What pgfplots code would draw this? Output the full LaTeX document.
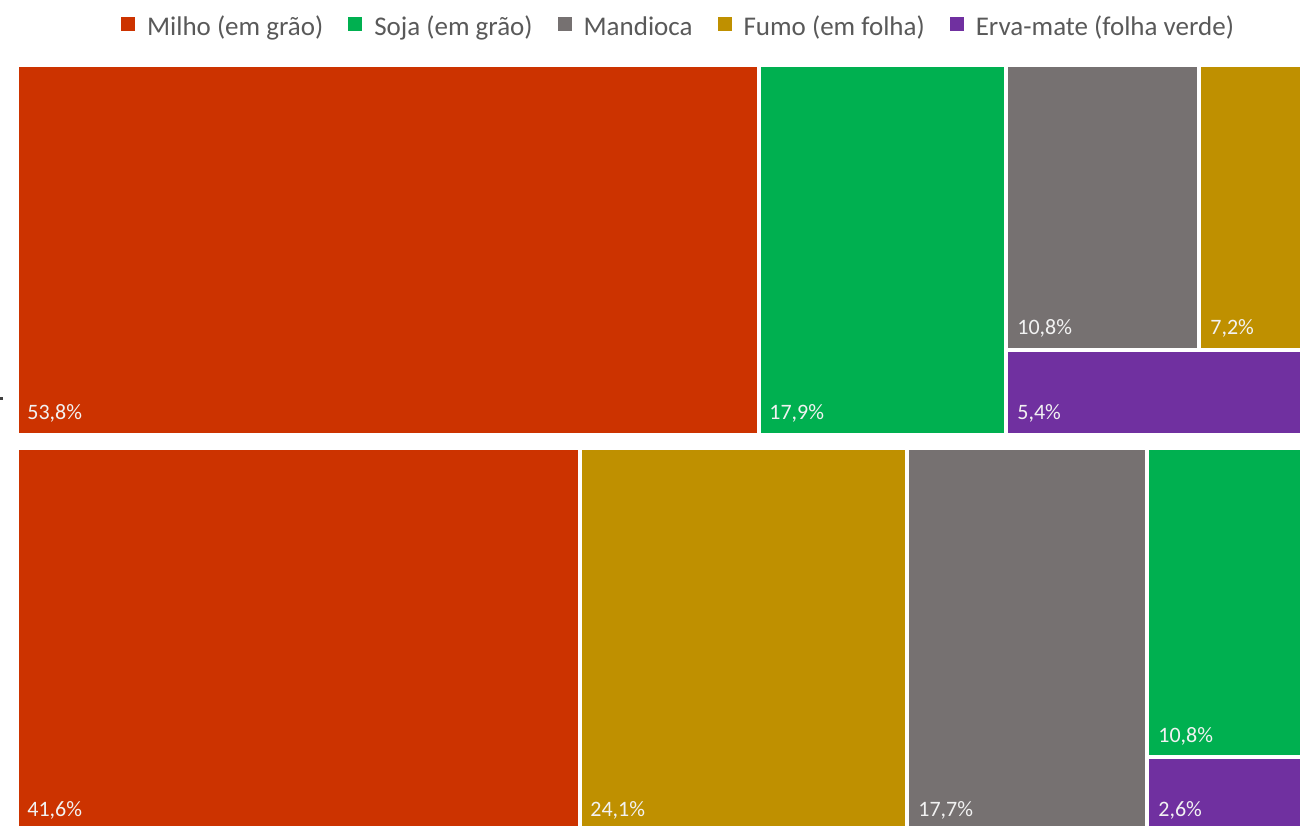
\documentclass[border=0pt]{standalone}
\usepackage{pgfplots}
\pgfplotsset{compat=1.18}
\usepackage{fontspec}
\setmainfont{Carlito}
\definecolor{milho}{HTML}{CC3300}
\definecolor{soja}{HTML}{00B050}
\definecolor{mand}{HTML}{767171}
\definecolor{fumo}{HTML}{BF9000}
\definecolor{erva}{HTML}{7030A0}
\definecolor{legtext}{HTML}{595959}
\definecolor{lab}{HTML}{F2F2F2}
\begin{document}
\begin{tikzpicture}
\begin{axis}[
  width=650pt, height=412.5pt, scale only axis,
  xmin=0, xmax=1300, ymin=0, ymax=825, y dir=reverse,
  axis lines=none, clip=true,
  legend columns=5,
  legend image code/.code={\fill[#1, draw=none] (0pt,-1.5pt) rectangle (7pt,5.5pt);},
  legend style={at={(axis cs:677.5,28)}, anchor=center, draw=none, fill=none,
    font=\fontsize{13.5}{16}\selectfont, text=legtext,
    nodes={inner sep=0pt, text height=10pt, text depth=3pt},
    /tikz/every odd column/.append style={column sep=6pt},
    /tikz/every even column/.append style={column sep=12.5pt}},
]
\path (rel axis cs:0,0) rectangle (rel axis cs:1,1);
% top group
\addplot[fill=milho, draw=none, forget plot] coordinates {(19,67) (757,67) (757,433) (19,433)} -- cycle;
\addplot[fill=soja, draw=none, forget plot] coordinates {(761,67) (1004,67) (1004,433) (761,433)} -- cycle;
\addplot[fill=mand, draw=none, forget plot] coordinates {(1008,67) (1197,67) (1197,348) (1008,348)} -- cycle;
\addplot[fill=fumo, draw=none, forget plot] coordinates {(1201,67) (1310,67) (1310,348) (1201,348)} -- cycle;
\addplot[fill=erva, draw=none, forget plot] coordinates {(1008,352) (1310,352) (1310,433) (1008,433)} -- cycle;
% bottom group
\addplot[fill=milho, draw=none, forget plot] coordinates {(19,450) (578,450) (578,835) (19,835)} -- cycle;
\addplot[fill=fumo, draw=none, forget plot] coordinates {(582,450) (905,450) (905,835) (582,835)} -- cycle;
\addplot[fill=mand, draw=none, forget plot] coordinates {(909,450) (1145,450) (1145,835) (909,835)} -- cycle;
\addplot[fill=soja, draw=none, forget plot] coordinates {(1149,450) (1310,450) (1310,755) (1149,755)} -- cycle;
\addplot[fill=erva, draw=none, forget plot] coordinates {(1149,759) (1310,759) (1310,835) (1149,835)} -- cycle;
% small tick at left
\addplot[fill=black!75, draw=none, forget plot] coordinates {(0,397) (3,397) (3,400) (0,400)} -- cycle;
% legend
\addlegendimage{fill=milho}\addlegendentry{Milho (em grão)}
\addlegendimage{fill=soja}\addlegendentry{Soja (em grão)}
\addlegendimage{fill=mand}\addlegendentry{Mandioca}
\addlegendimage{fill=fumo}\addlegendentry{Fumo (em folha)}
\addlegendimage{fill=erva}\addlegendentry{Erva-mate (folha verde)}
% labels
\begin{scope}[every node/.style={anchor=base west, inner sep=0pt, text=lab, font=\fontsize{11}{13}\selectfont}]
\node at (axis cs:27,419) {53,8\%};
\node at (axis cs:769,419) {17,9\%};
\node at (axis cs:1017,334) {10,8\%};
\node at (axis cs:1210,334) {7,2\%};
\node at (axis cs:1017,419) {5,4\%};
\node at (axis cs:27,816) {41,6\%};
\node at (axis cs:590,816) {24,1\%};
\node at (axis cs:918,816) {17,7\%};
\node at (axis cs:1158,742) {10,8\%};
\node at (axis cs:1158,816) {2,6\%};
\end{scope}
\end{axis}
\end{tikzpicture}
\end{document}
